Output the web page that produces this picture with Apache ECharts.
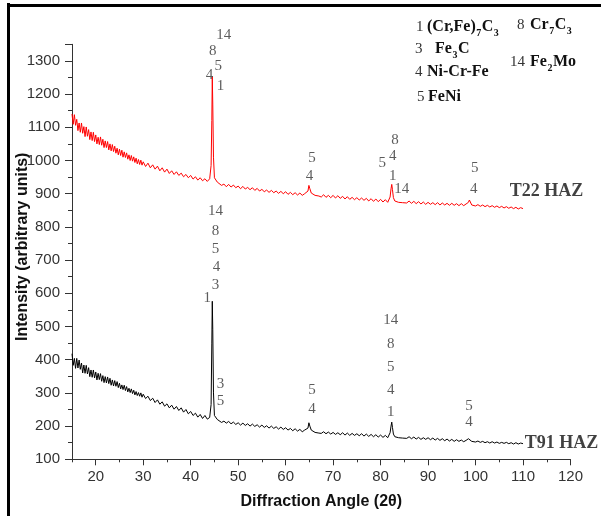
<!DOCTYPE html>
<html>
<head>
<meta charset="utf-8">
<script src="https://cdn.jsdelivr.net/npm/echarts@6/dist/echarts.min.js"></script>
<style>html,body{margin:0;padding:0;background:#fff}#c{width:601px;height:516px}</style>
</head>
<body>
<div id="c"></div>
<script>
// Diffraction angle grid (2θ), shared by both scans
const angle = [
  15,15.25,15.5,15.75,16,16.25,16.5,16.75,17,17.25,17.5,17.75,18,18.25,18.5,18.75,19,19.25,19.5,19.75,20,20.25,20.5,20.75,21,21.25,21.5,21.75,22,22.25,22.5,22.75,23,23.25,23.5,23.75,24,24.25,24.5,24.75,25,25.25,25.5,25.75,26,26.25,26.5,26.75,27,27.25,27.5,27.75,28,28.25,28.5,28.75,29,29.25,29.5,29.75,30,
  30.5,31,31.5,32,32.5,33,33.5,34,34.5,35,35.5,36,36.5,37,37.5,38,38.5,39,39.5,40,40.5,41,41.5,42,42.5,43,43.5,
  44,44.3,44.45,44.55,44.65,44.8,45,45.3,45.6,46,46.5,47,
  47.5,48,48.5,49,49.5,50,50.5,51,51.5,52,52.5,53,53.5,54,54.5,55,55.5,56,56.5,57,57.5,58,58.5,59,59.5,60,60.5,61,61.5,62,62.5,63,63.5,64,
  64.4,64.7,64.9,65.1,65.4,65.8,66.2,66.6,67,
  67.5,68,68.5,69,69.5,70,70.5,71,71.5,72,72.5,73,73.5,74,74.5,75,75.5,76,76.5,77,77.5,78,78.5,79,79.5,80,80.5,81,81.5,
  81.8,82,82.2,82.35,82.5,82.7,83,83.4,83.8,84.2,84.6,85,
  85.5,86,86.5,87,87.5,88,88.5,89,89.5,90,90.5,91,91.5,92,92.5,93,93.5,94,94.5,95,95.5,96,96.5,97,97.5,98,
  98.3,98.5,98.7,98.9,99.2,99.6,100,
  100.5,101,101.5,102,102.5,103,103.5,104,104.5,105,105.5,106,106.5,107,107.5,108,108.5,109,109.5,110
];
// T22 HAZ intensity
const t22 = [
  1140,1109,1138,1106,1124,1090,1113,1085,1113,1082,1102,1072,1101,1073,1093,1063,1086,1060,1085,1057,1077,1050,1070,1048,1071,1046,1064,1039,1059,1039,1057,1032,1050,1029,1048,1027,1043,1022,1037,1017,1034,1015,1031,1010,1026,1009,1023,1004,1017,1000,1015,998,1011,994,1007,990,1003,988,1001,986,996,
  982,992,978,987,974,983,969,978,965,974,961,969,958,966,955,962,951,958,948,955,944,951,941,948,939,945,937,
  945,985,1120,1252,1170,1010,948,952,935,931,925,929,
  921,928,920,926,918,923,915,922,914,919,912,918,910,916,908,913,906,911,904,910,903,908,901,907,900,906,898,904,897,903,896,902,895,900,
  899,908,925,915,902,899,895,898,893,
  890,897,889,895,888,895,887,894,886,892,884,891,883,889,882,888,881,887,880,886,878,885,877,884,876,883,875,882,874,
  880,890,915,928,912,888,878,880,874,878,873,877,
  872,878,871,877,870,876,869,875,868,874,868,873,867,873,866,872,866,871,865,871,865,870,864,870,864,869,
  868,874,881,875,866,868,863,
  867,862,866,861,865,860,864,859,863,858,862,857,861,856,860,855,859,854,858,855
];
// T91 HAZ intensity
const t91 = [
  418,383,404,374,404,375,399,371,390,360,384,359,383,357,376,349,369,347,369,345,363,339,359,340,358,335,352,331,349,330,348,328,344,323,339,321,337,320,334,316,329,312,324,310,323,307,319,303,314,301,312,298,308,294,304,292,301,290,300,287,296,
  283,290,277,284,271,279,266,273,260,267,255,263,251,259,247,255,242,250,237,244,232,239,227,235,223,232,221,
  226,265,450,576,490,300,232,236,220,218,211,215,
  209,214,207,212,205,210,203,209,202,207,200,206,199,204,197,203,196,201,194,200,193,198,191,197,190,195,188,193,186,192,185,190,183,188,
  187,194,210,200,188,186,181,184,179,
  178,183,177,182,176,181,175,180,174,180,173,179,172,178,172,177,171,177,170,176,169,175,168,174,167,173,166,172,165,
  169,180,200,212,196,176,168,170,165,169,164,167,
  163,168,162,167,161,166,160,165,160,165,159,164,158,163,157,162,156,161,155,160,154,159,154,158,153,157,
  157,162,168,162,154,156,152,
  155,151,154,150,153,149,153,149,152,148,151,148,151,147,150,146,150,146,149,147
];
// Axis ticks
const xMajorTicks = [20,30,40,50,60,70,80,90,100,110,120];
const xMinorTicks = [15,25,35,45,55,65,75,85,95,105,115];
// Peak phase annotations: [angle, intensity, phase ids]
const t22Peaks = [
  [46.95,1378,'14'],[44.64,1330,'8'],[45.78,1285,'5'],[43.95,1257,'4'],[46.26,1225,'1'],
  [65.53,1008,'5'],[65.02,953,'4'],
  [83.03,1061,'8'],[82.54,1013,'4'],[80.36,993,'5'],[82.54,953,'1'],[84.43,913,'14'],
  [99.83,978,'5'],[99.62,913,'4']
];
const t91Peaks = [
  [45.21,847,'14'],[45.21,787,'8'],[45.21,732,'5'],[45.42,680,'4'],[45.21,626,'3'],[43.47,586,'1'],
  [46.26,327,'3'],[46.26,274,'5'],
  [65.53,309,'5'],[65.53,252,'4'],
  [82.12,520,'14'],[82.12,448,'8'],[82.12,379,'5'],[82.12,309,'4'],[82.12,241,'1'],
  [98.63,261,'5'],[98.63,213,'4']
];
const seriesTags = [[107.18,908,'T22 HAZ'],[110.34,148,'T91 HAZ']];
// Phase key: [id, formula parts ([text, isSubscript])]
const phaseKey = [
  ['1', [['(Cr,Fe)',0],['7',1],['C',0],['3',1]]],
  ['8', [['Cr',0],['7',1],['C',0],['3',1]]],
  ['3', [['Fe',0],['3',1],['C',0]]],
  ['4', [['Ni-Cr-Fe',0]]],
  ['5', [['FeNi',0]]],
  ['14',[['Fe',0],['2',1],['Mo',0]]]
];

// layout of the phase key (pixels): number position and formula start x
const keyPos = [
  {num:[416,27], x:427},
  {num:[517,25], x:530},
  {num:[415,49], x:435},
  {num:[415,72], x:427},
  {num:[417,97], x:428},
  {num:[510,62], x:530}
];
const serif = '"Liberation Serif","Times New Roman",serif';
const sans = '"Liberation Sans",Arial,sans-serif';
const fontNum = '15px ' + serif, fontName = 'bold 16px ' + serif, fontSub = 'bold 10px ' + serif;
const mctx = document.createElement('canvas').getContext('2d');
function tw(t, f){ mctx.font = f; return mctx.measureText(t).width; }

const graphics = [
  {type:'line', shape:{x1:8.5,y1:3,x2:8.5,y2:516}, style:{stroke:'#000',lineWidth:3}, silent:true},
  {type:'line', shape:{x1:7,y1:5.5,x2:601,y2:5.5}, style:{stroke:'#000',lineWidth:3}, silent:true}
];
phaseKey.forEach((k,i)=>{
  const p = keyPos[i];
  graphics.push({type:'text', x:p.num[0], y:p.num[1], silent:true,
    style:{text:k[0], font:fontNum, fill:'#333', textVerticalAlign:'middle', verticalAlign:'middle'}});
  let x = p.x;
  k[1].forEach(part=>{
    const sub = part[1]===1;
    const f = sub ? fontSub : fontName;
    graphics.push({type:'text', x:x + (sub?0.5:0), y:p.num[1] + (sub?6:0), silent:true,
      style:{text:part[0], font:f, fill:'#111', textVerticalAlign:'middle', verticalAlign:'middle'}});
    x += tw(part[0], f) + (sub?1:0);
  });
});

function scan(vals){ return angle.map((a,i)=>[a, vals[i]]); }

const chart = echarts.init(document.getElementById('c'), null, {renderer:'canvas'});
chart.setOption({
  animation:false,
  backgroundColor:'#fff',
  grid:{left:72, right:30.5, top:44.3, bottom:56.7, containLabel:false, outerBoundsMode:'none'},
  xAxis:[{
    type:'value', min:15, max:120, position:'bottom',
    name:'Diffraction Angle (2θ)', nameLocation:'middle', nameGap:34, nameMoveOverlap:false,
    nameTextStyle:{fontFamily:sans, fontWeight:'bold', fontSize:16, color:'#111'},
    axisLine:{lineStyle:{color:'#333', width:1}},
    axisTick:{show:true, inside:false, length:6, customValues:xMajorTicks, lineStyle:{color:'#333'}},
    axisLabel:{customValues:xMajorTicks, margin:10, fontFamily:sans, fontSize:15, color:'#333'},
    splitLine:{show:false}
  },{
    type:'value', min:15, max:120, position:'bottom', gridIndex:0,
    axisLine:{show:false},
    axisTick:{show:true, length:3, customValues:xMinorTicks, lineStyle:{color:'#333'}},
    axisLabel:{show:false}, splitLine:{show:false}
  }],
  yAxis:{
    type:'value', min:100, max:1350, interval:100,
    name:'Intensity (arbitrary units)', nameLocation:'middle', nameGap:41, nameMoveOverlap:false,
    nameTextStyle:{fontFamily:sans, fontWeight:'bold', fontSize:16, color:'#111', padding:[0,0,0,10]},
    axisLine:{show:true, lineStyle:{color:'#333', width:1}},
    axisTick:{show:true, length:7, lineStyle:{color:'#333'}},
    minorTick:{show:true, splitNumber:2, length:4, lineStyle:{color:'#333'}},
    axisLabel:{margin:12, showMaxLabel:false, fontFamily:sans, fontSize:15, color:'#333',
      formatter:v => (v > 1300 ? '' : String(v))},
    splitLine:{show:false}
  },
  series:[
    {type:'line', name:'T22 HAZ', data:scan(t22), showSymbol:false, symbol:'none',
      lineStyle:{color:'#ff0000', width:1}, itemStyle:{color:'#ff0000'}, silent:true},
    {type:'line', name:'T91 HAZ', data:scan(t91), showSymbol:false, symbol:'none',
      lineStyle:{color:'#000', width:1}, itemStyle:{color:'#000'}, silent:true},
    {type:'scatter', data:t22Peaks.concat(t91Peaks), symbolSize:0, clip:false, silent:true, z:5,
      label:{show:true, position:'inside', formatter:p=>p.value[2], fontFamily:serif, fontSize:15, color:'#333'}},
    {type:'scatter', data:seriesTags, symbolSize:0, clip:false, silent:true, z:5,
      label:{show:true, position:'right', distance:0, formatter:p=>p.value[2], fontFamily:serif, fontWeight:'bold', fontSize:18, color:'#111'}}
  ],
  graphic:graphics
});
</script>
</body>
</html>
